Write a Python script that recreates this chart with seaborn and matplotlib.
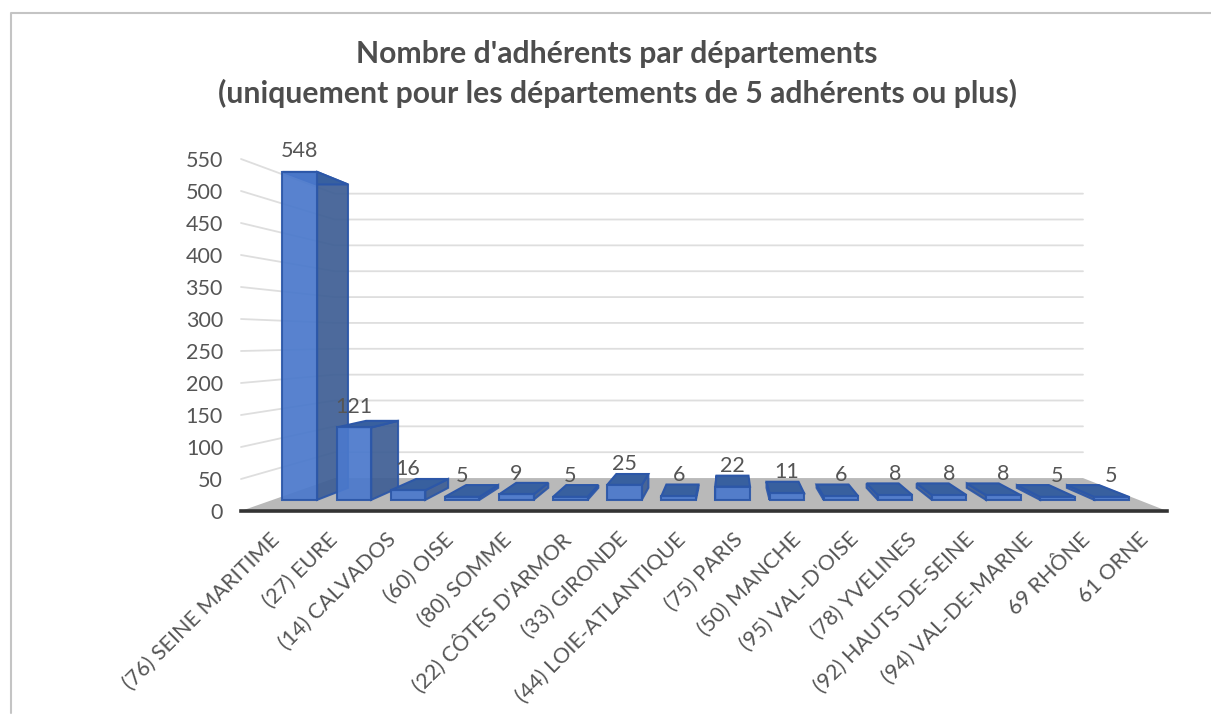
import matplotlib
matplotlib.use("Agg")
import matplotlib.pyplot as plt
import seaborn as sns
from matplotlib.lines import Line2D
from matplotlib.patches import Polygon

departements = [
    "(76) SEINE MARITIME", "(27) EURE", "(14) CALVADOS", "(60) OISE",
    "(80) SOMME", "(22) CÔTES D'ARMOR", "(33) GIRONDE", "(44) LOIE-ATLANTIQUE",
    "(75) PARIS", "(50) MANCHE", "(95) VAL-D'OISE", "(78) YVELINES",
    "(92) HAUTS-DE-SEINE", "(94) VAL-DE-MARNE", "69 RHÔNE", "61 ORNE",
]
adherents = [548, 121, 16, 5, 9, 5, 25, 6, 22, 11, 6, 8, 8, 8, 5, 5]
y_ticks = list(range(0, 551, 50))
titre = "Nombre d'adhérents par départements\n(uniquement pour les départements de 5 adhérents ou plus)"

# perspective of the fake 3D box, in data units
VANISH_X = 7.94
VANISH_Y = 268
S_BAR_FRONT = 0.935
S_BAR_BACK = 0.865
S_WALL = 0.808

GREY_TEXT = "#555555"


def project(x, v, s):
    return (VANISH_X + (x - VANISH_X) * s, VANISH_Y + (v - VANISH_Y) * s)


sns.set_theme(style="white")
plt.rcParams["font.family"] = ["Lato", "DejaVu Sans"]

W, H = 1211, 715
fig = plt.figure(figsize=(W / 100, H / 100), dpi=100)
ax = fig.add_axes([241 / W, 1 - 511 / H, (1167 - 241) / W, (511 - 159) / H])

sns.barplot(x=departements, y=adherents, color="#4b79cc", saturation=1, width=0.64, ax=ax)
ax.set_xlim(-0.5, len(departements) - 0.5)
ax.set_ylim(0, 550)

# floor and back wall
floor = [project(-0.5, 0, 1), project(15.5, 0, 1), project(15.5, 0, S_WALL), project(-0.5, 0, S_WALL)]
ax.add_patch(Polygon(floor, closed=True, facecolor="#b9b9b9", edgecolor="none", zorder=1))
for t in y_ticks[1:]:
    pts = [project(-0.5, t, 1), project(-0.5, t, S_WALL), project(15.5, t, S_WALL)]
    ax.plot([p[0] for p in pts], [p[1] for p in pts], color="#dedede", lw=1.3, zorder=1.5, clip_on=False)

# front faces come from seaborn, sides and tops are derived from them
for i, (bar, val) in enumerate(zip(ax.containers[0], adherents)):
    x0, x1 = bar.get_x(), bar.get_x() + bar.get_width()
    z = 3 + (10 - abs(i - VANISH_X))
    edge = x1 if i < VANISH_X else x0
    side = [project(edge, 0, S_BAR_FRONT), project(edge, val, S_BAR_FRONT),
            project(edge, val, S_BAR_BACK), project(edge, 0, S_BAR_BACK)]
    top = [project(x0, val, S_BAR_FRONT), project(x1, val, S_BAR_FRONT),
           project(x1, val, S_BAR_BACK), project(x0, val, S_BAR_BACK)]
    ax.add_patch(Polygon(side, closed=True, facecolor="#3f5f95", edgecolor="#2c57a8",
                         lw=1.5, alpha=0.93, zorder=z))
    ax.add_patch(Polygon(top, closed=True, facecolor="#38609f", edgecolor="#2c57a8",
                         lw=1.5, zorder=z + 0.1))
    left, base = project(x0, 0, S_BAR_FRONT)
    right, roof = project(x1, val, S_BAR_FRONT)
    bar.set_x(left)
    bar.set_width(right - left)
    bar.set_y(base)
    bar.set_height(roof - base)
    bar.set_edgecolor("#2c57a8")
    bar.set_linewidth(1.5)
    bar.set_alpha(0.93)
    bar.set_zorder(z + 0.2)
    ax.annotate(str(val), xy=(left / 2 + right / 2, roof), xytext=(0, 15), textcoords="offset points",
                ha="center", va="center", fontsize=15.5, color=GREY_TEXT, zorder=30)

sns.despine(ax=ax, left=True, top=True, right=True)
ax.spines["bottom"].set_color("#333333")
ax.spines["bottom"].set_linewidth(2.6)
ax.spines["bottom"].set_zorder(20)

ax.set_yticks(y_ticks)
ax.tick_params(axis="y", length=0, pad=13, labelsize=15.5, labelcolor=GREY_TEXT)
ax.set_xticks(range(len(departements)))
ax.set_xticklabels(departements, rotation=45, ha="right", rotation_mode="anchor",
                   fontsize=15.5, color=GREY_TEXT)
ax.tick_params(axis="x", length=0, pad=13)
ax.patch.set_visible(False)

fig.text(617 / W, 1 - 74 / H, titre, ha="center", va="center", fontsize=21.7, fontweight="bold",
         color="#4d4d4d", linespacing=1.47)

# chart frame
fig.add_artist(Line2D([11 / W, 11 / W, 1], [2 / H, 1 - 13 / H, 1 - 13 / H], color="#c4c4c4", lw=1.5))

fig.savefig("out.png", dpi=100)
